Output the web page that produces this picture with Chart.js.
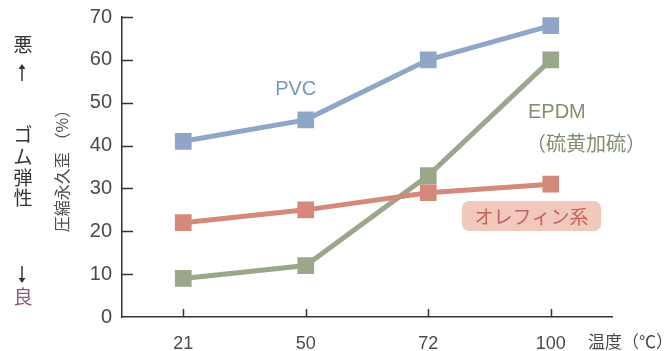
<!DOCTYPE html>
<html>
<head>
<meta charset="utf-8">
<script src="https://cdn.jsdelivr.net/npm/chart.js@4.4.1/dist/chart.umd.min.js"></script>
<style>
  html, body { margin: 0; padding: 0; background: #fff; }
  #wrap { position: relative; width: 667px; height: 351px; }
</style>
</head>
<body>
<div id="wrap"><canvas id="c" width="667" height="351"></canvas></div>
<script>
// Temperature categories (°C)
const temperatures = ['21', '50', '72', '100'];
// Compression set (%) per rubber type
const pvcValues = [41, 46, 60, 68];
const epdmValues = [9, 12, 33, 60];
const olefinValues = [22, 25, 29, 31];
// Y-axis ticks
const yTicks = [0, 10, 20, 30, 40, 50, 60, 70];

const NUM_FONT = '"Liberation Sans", Arial, sans-serif';
const JP_FONT = '"Noto Sans CJK JP", sans-serif';
const AXIS_COLOR = '#333333';
const TEXT_COLOR = '#4a4a4a';

const PVC_COLOR = '#8fa6c9';
const EPDM_COLOR = '#9aa78b';
const OLEFIN_COLOR = '#d4897b';

function series(label, data, color) {
  return {
    label, data,
    borderColor: color,
    backgroundColor: color,
    borderWidth: 5,
    pointStyle: 'rect',
    pointRadius: 11.8,
    pointHoverRadius: 11.8,
    pointBorderWidth: 0,
    tension: 0
  };
}

// Inward tick marks, annotations and side captions
const decorations = {
  id: 'decorations',
  afterDraw(chart) {
    const ctx = chart.ctx;
    const xs = chart.scales.x, ys = chart.scales.y;
    const area = chart.chartArea;
    ctx.save();
    ctx.strokeStyle = AXIS_COLOR;
    ctx.lineWidth = 1.5;
    // y ticks pointing into the plot
    yTicks.forEach(v => {
      const py = Math.round(ys.getPixelForValue(v)) + 0.5;
      if (v === 0) return;
      ctx.beginPath();
      ctx.moveTo(area.left, py);
      ctx.lineTo(area.left + 11, py);
      ctx.stroke();
    });
    // x ticks pointing up into the plot
    temperatures.forEach((t, i) => {
      const px = Math.round(xs.getPixelForValue(i)) + 0.5;
      ctx.beginPath();
      ctx.moveTo(px, area.bottom);
      ctx.lineTo(px, area.bottom - 8);
      ctx.stroke();
    });

    // Series labels
    ctx.textBaseline = 'middle';
    ctx.textAlign = 'center';
    ctx.font = '20px ' + NUM_FONT;
    ctx.fillStyle = '#7896c2';
    ctx.fillText('PVC', xs.getPixelForValue(1) - 10, ys.getPixelForValue(53));

    ctx.fillStyle = '#7f8f70';
    ctx.textAlign = 'left';
    ctx.font = '20px ' + NUM_FONT;
    ctx.fillText('EPDM', 528, ys.getPixelForValue(47.8));
    ctx.font = '20px ' + JP_FONT;
    ctx.fillText('（硫黄加硫）', 526, ys.getPixelForValue(40.6));

    // Olefin label on a rounded badge
    ctx.textAlign = 'center';
    const bx = 462, by = 201, bw = 139, bh = 30;
    ctx.fillStyle = '#f0c8bc';
    ctx.beginPath();
    ctx.roundRect(bx, by, bw, bh, 7);
    ctx.fill();
    ctx.fillStyle = '#c0655b';
    ctx.font = '19px ' + JP_FONT;
    ctx.fillText('オレフィン系', bx + bw / 2, by + bh / 2 + 1);

    // X axis unit
    ctx.fillStyle = TEXT_COLOR;
    ctx.textAlign = 'left';
    ctx.font = '17px ' + JP_FONT;
    ctx.fillText('温度（℃）', 588, 342);

    // Rotated y-axis title
    ctx.save();
    ctx.translate(62, 167);
    ctx.rotate(-Math.PI / 2);
    ctx.textAlign = 'center';
    ctx.font = '16px ' + JP_FONT;
    ctx.fillStyle = TEXT_COLOR;
    ctx.fillText('圧縮永久歪 （%）', 0, 0);
    ctx.restore();

    // Side captions: worse / rubber elasticity / better
    ctx.textAlign = 'center';
    ctx.fillStyle = '#333333';
    ctx.font = '19px ' + JP_FONT;
    ctx.fillText('悪', 23, 45);
    ctx.fillText('ゴ', 23, 135);
    ctx.fillText('ム', 23, 157);
    ctx.fillText('弾', 23, 178);
    ctx.fillText('性', 23, 198);
    ctx.fillStyle = '#8a5a7c';
    ctx.fillText('良', 23, 297);
    // arrows
    ctx.strokeStyle = '#333333';
    ctx.fillStyle = '#333333';
    ctx.lineWidth = 1.5;
    ctx.beginPath(); ctx.moveTo(22, 81); ctx.lineTo(22, 67); ctx.stroke();
    ctx.beginPath(); ctx.moveTo(18.5, 69); ctx.lineTo(22, 64); ctx.lineTo(25.5, 69); ctx.closePath(); ctx.fill();
    ctx.beginPath(); ctx.moveTo(22, 266); ctx.lineTo(22, 280); ctx.stroke();
    ctx.beginPath(); ctx.moveTo(18.5, 278); ctx.lineTo(22, 283); ctx.lineTo(25.5, 278); ctx.closePath(); ctx.fill();
    ctx.restore();
  }
};

new Chart(document.getElementById('c'), {
  type: 'line',
  data: {
    labels: temperatures,
    datasets: [
      series('オレフィン系', olefinValues, OLEFIN_COLOR),
      series('EPDM', epdmValues, EPDM_COLOR),
      series('PVC', pvcValues, PVC_COLOR)
    ]
  },
  options: {
    responsive: false,
    animation: false,
    events: [],
    layout: { padding: { left: 0, right: 55, top: 17, bottom: 0 } },
    plugins: { legend: { display: false }, tooltip: { enabled: false } },
    scales: {
      x: {
        type: 'category',
        offset: true,
        grid: { display: false, drawTicks: false },
        border: { display: true, color: AXIS_COLOR, width: 1.5 },
        ticks: { color: TEXT_COLOR, font: { family: NUM_FONT, size: 18 }, padding: 16, maxRotation: 0 },
        afterFit(scale) { scale.height = 34; scale.paddingLeft = 0; scale.paddingRight = 0; }
      },
      y: {
        min: 0, max: 70,
        afterBuildTicks(scale) { scale.ticks = yTicks.map(v => ({ value: v })); },
        grid: { display: false, drawTicks: false },
        border: { display: true, color: AXIS_COLOR, width: 1.5 },
        ticks: { color: TEXT_COLOR, font: { family: NUM_FONT, size: 20 }, padding: 10 },
        afterFit(scale) { scale.width = 122; scale.paddingTop = 0; scale.paddingBottom = 0; }
      }
    }
  },
  plugins: [decorations]
});
</script>
</body>
</html>
